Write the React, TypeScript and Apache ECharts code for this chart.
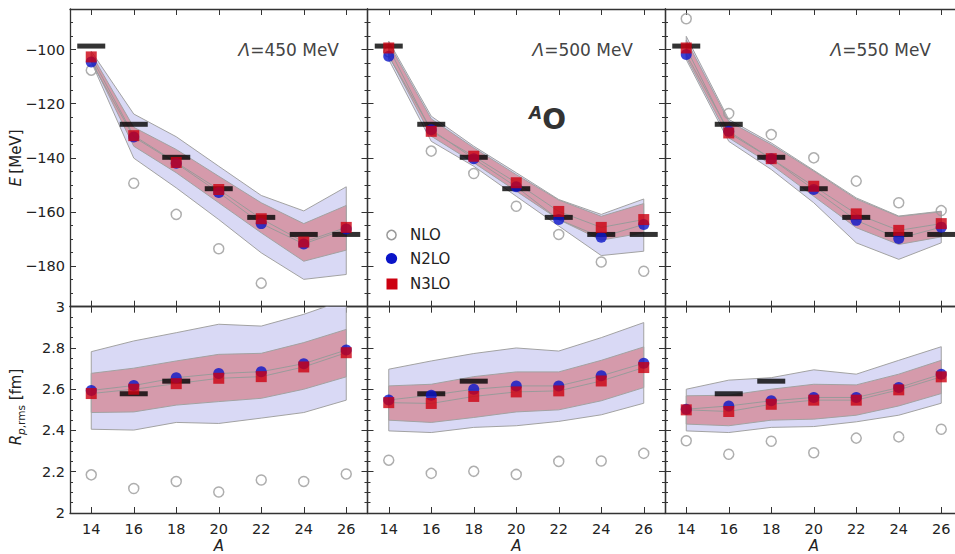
import React, { useEffect, useRef } from 'react';
import * as echarts from 'echarts';

const FONT = 'DejaVu Sans';
const A = [14, 16, 18, 20, 22, 24, 26];
const CUTOFFS = ['450', '500', '550'];

// Experimental values
const EXP_E = [-98.7, -127.6, -139.8, -151.4, -162.0, -168.3, -168.3];
const EXP_R_A = [16, 18];
const EXP_R = [2.578, 2.639];

// ---- Binding energies E [MeV] ----
// Lambda = 450 MeV
const E450_NLO = [-107.6, -149.4, -160.9, -173.6, -186.3, null, null];
const E450_N2LO = [-104.6, -132.3, -142.0, -152.8, -164.3, -171.8, -166.3];
const E450_N3LO = [-102.7, -131.8, -141.7, -151.7, -162.5, -171.1, -165.7];
const E450_N2LO_HI = [-100.6, -123.8, -132.2, -143.1, -153.9, -159.6, -150.7];
const E450_N2LO_LO = [-104.5, -140.1, -151.1, -162.8, -175.1, -184.9, -183.1];
const E450_N3LO_HI = [-101.5, -128.7, -136.9, -146.8, -156.6, -164.3, -157.6];
const E450_N3LO_LO = [-103.8, -135.7, -145.5, -156.6, -167.7, -178.2, -174.1];
// Lambda = 500 MeV
const E500_NLO = [-100.8, -137.5, -145.8, -157.9, -168.3, -178.5, -181.9];
const E500_N2LO = [-102.5, -129.6, -140.3, -150.7, -162.8, -169.3, -164.6];
const E500_N3LO = [-99.4, -130.2, -139.4, -149.2, -159.8, -165.7, -162.8];
const E500_N2LO_HI = [-96.9, -124.6, -135.7, -145.5, -155.4, -160.9, -155.2];
const E500_N2LO_LO = [-103.7, -133.9, -143.1, -154.2, -165.2, -176.1, -174.5];
const E500_N3LO_HI = [-97.8, -125.6, -136.3, -146.2, -155.6, -161.6, -156.9];
const E500_N3LO_LO = [-102.2, -132.0, -141.8, -152.3, -162.8, -170.4, -167.7];
// Lambda = 550 MeV
const E550_NLO = [-88.6, -123.6, -131.4, -140.0, -148.6, -156.6, -159.5];
const E550_N2LO = [-101.8, -130.2, -140.3, -151.7, -163.1, -169.8, -165.6];
const E550_N3LO = [-99.4, -130.8, -140.3, -150.5, -160.7, -166.8, -164.3];
const E550_N2LO_HI = [-95.1, -125.8, -134.5, -144.6, -154.8, -161.5, -159.7];
const E550_N2LO_LO = [-103.7, -133.9, -144.3, -156.6, -171.4, -177.5, -171.4];
const E550_N3LO_HI = [-96.5, -126.5, -135.1, -144.9, -155.2, -161.7, -159.9];
const E550_N3LO_LO = [-102.8, -132.6, -142.5, -154.2, -165.8, -172.0, -169.2];

// ---- Proton rms radii R [fm] ----
const R450_NLO = [2.185, 2.119, 2.153, 2.102, 2.160, 2.153, 2.189];
const R450_N2LO = [2.594, 2.618, 2.656, 2.676, 2.685, 2.724, 2.790];
const R450_N3LO = [2.579, 2.600, 2.627, 2.653, 2.661, 2.708, 2.777];
const R450_N2LO_HI = [2.782, 2.834, 2.874, 2.915, 2.906, 2.963, 3.035];
const R450_N2LO_LO = [2.406, 2.402, 2.439, 2.434, 2.460, 2.487, 2.547];
const R450_N3LO_HI = [2.677, 2.702, 2.737, 2.769, 2.774, 2.826, 2.890];
const R450_N3LO_LO = [2.487, 2.490, 2.523, 2.540, 2.556, 2.600, 2.660];

const R500_NLO = [2.256, 2.192, 2.202, 2.187, 2.250, 2.252, 2.289];
const R500_N2LO = [2.548, 2.571, 2.600, 2.616, 2.616, 2.665, 2.726];
const R500_N3LO = [2.535, 2.531, 2.565, 2.587, 2.592, 2.640, 2.705];
const R500_N2LO_HI = [2.697, 2.737, 2.773, 2.800, 2.785, 2.850, 2.923];
const R500_N2LO_LO = [2.398, 2.390, 2.415, 2.423, 2.444, 2.476, 2.532];
const R500_N3LO_HI = [2.616, 2.624, 2.661, 2.684, 2.684, 2.740, 2.805];
const R500_N3LO_LO = [2.450, 2.439, 2.463, 2.490, 2.500, 2.544, 2.608];

const R550_NLO = [2.350, 2.285, 2.348, 2.292, 2.363, 2.369, 2.406];
const R550_N2LO = [2.503, 2.519, 2.544, 2.560, 2.560, 2.608, 2.673];
const R550_N3LO = [2.500, 2.492, 2.527, 2.547, 2.547, 2.597, 2.660];
const R550_N2LO_HI = [2.600, 2.644, 2.656, 2.694, 2.673, 2.740, 2.806];
const R550_N2LO_LO = [2.398, 2.390, 2.415, 2.419, 2.442, 2.474, 2.532];
const R550_N3LO_HI = [2.568, 2.571, 2.600, 2.624, 2.621, 2.673, 2.740];
const R550_N3LO_LO = [2.431, 2.423, 2.450, 2.455, 2.474, 2.519, 2.579];

const E_SETS = [
  [E450_NLO, E450_N2LO, E450_N3LO, E450_N2LO_HI, E450_N2LO_LO, E450_N3LO_HI, E450_N3LO_LO],
  [E500_NLO, E500_N2LO, E500_N3LO, E500_N2LO_HI, E500_N2LO_LO, E500_N3LO_HI, E500_N3LO_LO],
  [E550_NLO, E550_N2LO, E550_N3LO, E550_N2LO_HI, E550_N2LO_LO, E550_N3LO_HI, E550_N3LO_LO],
];
const R_SETS = [
  [R450_NLO, R450_N2LO, R450_N3LO, R450_N2LO_HI, R450_N2LO_LO, R450_N3LO_HI, R450_N3LO_LO],
  [R500_NLO, R500_N2LO, R500_N3LO, R500_N2LO_HI, R500_N2LO_LO, R500_N3LO_HI, R500_N3LO_LO],
  [R550_NLO, R550_N2LO, R550_N3LO, R550_N2LO_HI, R550_N2LO_LO, R550_N3LO_HI, R550_N3LO_LO],
];

const AXIS_COLOR = '#333';
const TEXT_COLOR = '#222';
const BLUE = '#0a14c8';
const RED = '#cc0010';
const GRAY = '#9a9a9a';
const BLUE_BAND = '#d9d9f5';
const RED_BAND = '#d59aab';

const GRID_LEFTS = [70, 367.5, 665];
const GRID_W = 297.5;
const ROW_TOPS = [9, 306.7];
const ROW_H = [297.7, 207.3];

function pairs(xs: number[], ys: (number | null)[]) {
  const out: number[][] = [];
  xs.forEach((x, i) => {
    const y = ys[i];
    if (y !== null && y !== undefined) out.push([x, y]);
  });
  return out;
}

function band(g: number, hi: number[], lo: number[], fill: string, z: number) {
  return {
    type: 'custom',
    xAxisIndex: 2 * g,
    yAxisIndex: 4 * g,
    clip: true,
    silent: true,
    z,
    data: [[A[0], hi[0]]],
    renderItem: (_params: any, api: any) => {
      const pts: number[][] = [];
      A.forEach((x, i) => pts.push(api.coord([x, hi[i]])));
      for (let i = A.length - 1; i >= 0; i--) pts.push(api.coord([A[i], lo[i]]));
      return {
        type: 'polygon',
        shape: { points: pts },
        style: { fill, stroke: '#a2a2a2', lineWidth: 1 },
      };
    },
  };
}

function buildOption() {
  const grid: any[] = [];
  const xAxis: any[] = [];
  const yAxis: any[] = [];
  const series: any[] = [];
  const labelStyle = { color: TEXT_COLOR, fontSize: 14.5, fontFamily: FONT };

  for (let r = 0; r < 2; r++) {
    for (let p = 0; p < 3; p++) {
      const g = r * 3 + p;
      grid.push({ left: GRID_LEFTS[p], top: ROW_TOPS[r], width: GRID_W, height: ROW_H[r], containLabel: false });
      const xBase = {
        type: 'value',
        gridIndex: g,
        min: 13,
        max: 27,
        splitNumber: 7,
        axisLine: { show: true, onZero: false, lineStyle: { color: AXIS_COLOR, width: 1.3 } },
        axisTick: { show: true, inside: true, length: 6, lineStyle: { color: AXIS_COLOR, width: 1 } },
        splitLine: { show: false },
      };
      xAxis.push({
        ...xBase,
        position: 'bottom',
        axisLabel: {
          show: r === 1,
          ...labelStyle,
          margin: 8,
          formatter: (v: number) => (v % 2 === 0 && v >= 14 && v <= 26 ? String(v) : ''),
        },
        name: r === 1 ? 'A' : '',
        nameLocation: 'middle',
        nameGap: 25,
        nameTextStyle: { ...labelStyle, fontSize: 15, fontStyle: 'italic' },
      });
      xAxis.push({ ...xBase, position: 'top', axisLabel: { show: false } });

      const yRange = r === 0 ? { min: -195, max: -85, splitNumber: 5 } : { min: 2, max: 3, interval: 0.2 };
      const yMinor = r === 0 ? { min: -195, max: -85, interval: 5 } : { min: 2, max: 3, interval: 0.05 };
      const yMajor = {
        type: 'value',
        gridIndex: g,
        ...yRange,
        axisLine: { show: true, onZero: false, lineStyle: { color: AXIS_COLOR, width: 1.3 } },
        axisTick: { show: true, inside: true, length: 6, lineStyle: { color: AXIS_COLOR, width: 1 } },
        splitLine: { show: false },
      };
      yAxis.push({
        ...yMajor,
        position: 'left',
        axisLabel: {
          show: p === 0,
          ...labelStyle,
          margin: 5,
          showMinLabel: r === 1,
          formatter: (v: number) => {
            if (r === 0) {
              const k = Math.round(v);
              return k % 20 === 0 ? String(k).replace('-', '\u2212') : '';
            }
            return String(Math.round(v * 10) / 10);
          },
        },
      });
      yAxis.push({ ...yMajor, position: 'right', axisLabel: { show: false } });
      const minorBase = {
        type: 'value',
        gridIndex: g,
        ...yMinor,
        axisLine: { show: false, onZero: false },
        axisTick: { show: true, inside: true, length: 3, lineStyle: { color: AXIS_COLOR, width: 1 } },
        axisLabel: { show: false },
        splitLine: { show: false },
      };
      yAxis.push({ ...minorBase, position: 'left' });
      yAxis.push({ ...minorBase, position: 'right' });

      const set = r === 0 ? E_SETS[p] : R_SETS[p];
      const [nlo, n2, n3, bHi, bLo, rHi, rLo] = set as any;
      const xi = 2 * g;
      const yi = 4 * g;
      series.push(band(g, bHi, bLo, BLUE_BAND, 1));
      series.push(band(g, rHi, rLo, RED_BAND, 2));
      series.push({
        type: 'line', xAxisIndex: xi, yAxisIndex: yi, z: 3, silent: true, showSymbol: false,
        data: pairs(A, n2), lineStyle: { color: GRAY, width: 1 },
      });
      series.push({
        type: 'line', xAxisIndex: xi, yAxisIndex: yi, z: 3, silent: true, showSymbol: false,
        data: pairs(A, n3), lineStyle: { color: GRAY, width: 1 },
      });
      series.push({
        name: 'NLO', type: 'scatter', xAxisIndex: xi, yAxisIndex: yi, z: 4, symbol: 'circle', symbolSize: 10,
        data: pairs(A, nlo),
        itemStyle: { color: 'rgba(255,255,255,0)', borderColor: GRAY, borderWidth: 1.5 },
      });
      series.push({
        name: 'Exp', type: 'scatter', xAxisIndex: xi, yAxisIndex: yi, z: 5, symbol: 'rect', symbolSize: [28, 5],
        data: r === 0 ? pairs(A, EXP_E) : pairs(EXP_R_A, EXP_R),
        itemStyle: { color: '#000' },
      });
      series.push({
        name: 'N2LO', type: 'scatter', xAxisIndex: xi, yAxisIndex: yi, z: 6, symbol: 'circle', symbolSize: 11,
        data: pairs(A, n2), itemStyle: { color: BLUE },
      });
      series.push({
        name: 'N3LO', type: 'scatter', xAxisIndex: xi, yAxisIndex: yi, z: 7, symbol: 'rect', symbolSize: 11,
        data: pairs(A, n3), itemStyle: { color: RED },
      });
    }
  }

  const cutoffRight = [339, 633, 931];
  const graphic: any[] = [];
  CUTOFFS.forEach((c, i) => {
    graphic.push({
      type: 'text', x: cutoffRight[i], y: 50, z: 100,
      style: {
        text: `{i|\u039B}{n|=${c} MeV}`,
        align: 'right', verticalAlign: 'middle',
        rich: {
          i: { fontStyle: 'italic', fontSize: 17, fontFamily: FONT, fill: '#444' },
          n: { fontSize: 17, fontFamily: FONT, fill: '#444' },
        },
      },
    });
  });
  graphic.push({
    type: 'text', x: 529, y: 119, z: 100,
    style: {
      text: '{a|A}{o|O}',
      align: 'left', verticalAlign: 'middle',
      rich: {
        a: { fontSize: 17, fontWeight: 'bold', fontStyle: 'italic', fontFamily: FONT, fill: '#333', verticalAlign: 'top', lineHeight: 30 },
        o: { fontSize: 28, fontWeight: 'bold', fontFamily: FONT, fill: '#333', lineHeight: 30 },
      },
    },
  });
  // legend
  graphic.push({ type: 'circle', z: 100, shape: { cx: 391.5, cy: 235, r: 4.6 }, style: { fill: 'rgba(255,255,255,0)', stroke: GRAY, lineWidth: 1.5 } });
  graphic.push({ type: 'circle', z: 100, shape: { cx: 391.5, cy: 258.5, r: 5.6 }, style: { fill: BLUE } });
  graphic.push({ type: 'rect', z: 100, shape: { x: 386.5, y: 278.5, width: 11, height: 11 }, style: { fill: RED } });
  [['NLO', 235], ['N2LO', 258.5], ['N3LO', 284]].forEach(([t, y]) => {
    graphic.push({
      type: 'text', x: 410, y: y as number, z: 100,
      style: { text: t as string, fontSize: 15, fontFamily: FONT, fill: TEXT_COLOR, align: 'left', verticalAlign: 'middle' },
    });
  });
  // axis titles
  graphic.push({
    type: 'text', x: 16, y: 158, rotation: Math.PI / 2, z: 100,
    style: {
      text: '{i|E} {n|[MeV]}', align: 'center', verticalAlign: 'middle',
      rich: {
        i: { fontStyle: 'italic', fontSize: 15, fontFamily: FONT, fill: TEXT_COLOR },
        n: { fontSize: 15, fontFamily: FONT, fill: TEXT_COLOR },
      },
    },
  });
  graphic.push({
    type: 'text', x: 16, y: 407, rotation: Math.PI / 2, z: 100,
    style: {
      text: '{i|R}{si|p}{s|,rms}{n| [fm]}', align: 'center', verticalAlign: 'middle',
      rich: {
        i: { fontStyle: 'italic', fontSize: 15, fontFamily: FONT, fill: TEXT_COLOR, lineHeight: 20 },
        si: { fontStyle: 'italic', fontSize: 10.5, fontFamily: FONT, fill: TEXT_COLOR, lineHeight: 14, verticalAlign: 'bottom', padding: [6, 0, 0, 0] },
        s: { fontSize: 10.5, fontFamily: FONT, fill: TEXT_COLOR, lineHeight: 14, verticalAlign: 'bottom', padding: [6, 0, 0, 0] },
        n: { fontSize: 15, fontFamily: FONT, fill: TEXT_COLOR, lineHeight: 20 },
      },
    },
  });

  return {
    animation: false,
    backgroundColor: '#fff',
    textStyle: { fontFamily: FONT },
    grid,
    xAxis,
    yAxis,
    series,
    graphic,
  };
}

export default function App() {
  const ref = useRef<HTMLDivElement>(null);
  useEffect(() => {
    if (!ref.current) return;
    const chart = echarts.init(ref.current, undefined, { renderer: 'svg' });
    chart.setOption(buildOption() as any);
    return () => chart.dispose();
  }, []);
  return <div ref={ref} style={{ position: 'fixed', left: 0, top: 0, width: 975, height: 554 }} />;
}
